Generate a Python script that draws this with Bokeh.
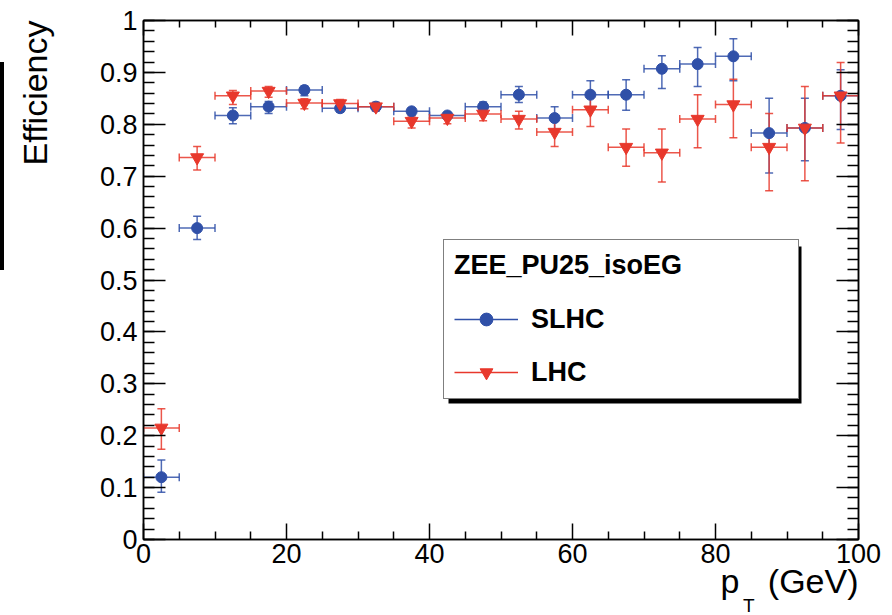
import math

from bokeh.embed import file_html
from bokeh.layouts import row
from bokeh.models import (BoxAnnotation, ColumnDataSource, FixedTicker, Legend,
                          LegendItem, LinearAxis, Range1d, Spacer, TeeHead,
                          Title, Whisker)
from bokeh.plotting import figure
from bokeh.resources import INLINE

# ---------------------------------------------------------------- data
# pT bins (GeV): centres and half widths
pt_center = [2.5, 7.5, 12.5, 17.5, 22.5, 27.5, 32.5, 37.5, 42.5, 47.5,
             52.5, 57.5, 62.5, 67.5, 72.5, 77.5, 82.5, 87.5, 92.5, 97.5]
pt_half = [2.5] * 20

# SLHC efficiency with asymmetric errors
slhc_eff = [0.120, 0.600, 0.817, 0.834, 0.866, 0.831, 0.834, 0.825, 0.817, 0.834,
            0.857, 0.812, 0.857, 0.857, 0.907, 0.916, 0.931, 0.783, 0.793, 0.855]
slhc_lo = [0.091, 0.578, 0.801, 0.821, 0.855, 0.823, 0.826, 0.818, 0.812, 0.827,
           0.842, 0.790, 0.833, 0.827, 0.869, 0.873, 0.884, 0.706, 0.730, 0.790]
slhc_hi = [0.153, 0.623, 0.832, 0.844, 0.874, 0.840, 0.842, 0.832, 0.822, 0.843,
           0.873, 0.834, 0.884, 0.886, 0.932, 0.948, 0.965, 0.850, 0.850, 0.905]

# LHC efficiency with asymmetric errors
lhc_eff = [0.215, 0.736, 0.855, 0.864, 0.841, 0.840, 0.834, 0.806, 0.812, 0.820,
           0.810, 0.785, 0.828, 0.756, 0.745, 0.810, 0.838, 0.756, 0.793, 0.855]
lhc_lo = [0.174, 0.712, 0.838, 0.852, 0.830, 0.831, 0.826, 0.793, 0.801, 0.807,
          0.791, 0.757, 0.796, 0.719, 0.689, 0.755, 0.774, 0.672, 0.691, 0.764]
lhc_hi = [0.252, 0.757, 0.865, 0.873, 0.849, 0.848, 0.842, 0.816, 0.820, 0.832,
          0.825, 0.807, 0.855, 0.791, 0.791, 0.857, 0.887, 0.821, 0.873, 0.919]

# axis ticks
x_ticks = [0, 20, 40, 60, 80, 100]
x_tick_labels = ["0", "20", "40", "60", "80", "100"]
x_minor = [5, 10, 15, 25, 30, 35, 45, 50, 55, 65, 70, 75, 85, 90, 95]
y_ticks = [0, 0.1, 0.2, 0.3, 0.4, 0.5, 0.6, 0.7, 0.8, 0.9, 1]
y_tick_labels = ["0", "0.1", "0.2", "0.3", "0.4", "0.5", "0.6", "0.7", "0.8", "0.9", "1"]
y_minor = [i / 50 for i in range(51)]

legend_title = "ZEE_PU25_isoEG"
series_names = ["SLHC", "LHC"]
y_title = "Efficiency"
x_title = "p\u00a0\u00a0\u00a0(GeV)"   # gap left for the subscript
x_title_sub = "T"

BLUE = "#3050A8"
RED = "#E8382C"
FONT = "Liberation Sans"

# ---------------------------------------------------------------- figure
p = figure(width=888, height=615, output_backend="svg", toolbar_location=None,
           x_range=Range1d(0, 100), y_range=Range1d(0, 1),
           min_border_left=139, min_border_right=34,
           min_border_top=20, min_border_bottom=76)
p.grid.visible = False
p.outline_line_color = "black"
p.outline_line_width = 1.5
p.background_fill_color = "white"
p.border_fill_color = "white"


def style_axis(ax, major, minor):
    ax.axis_line_color = "black"
    ax.axis_line_width = 1.5
    ax.major_tick_line_color = "black"
    ax.minor_tick_line_color = "black"
    ax.major_tick_line_width = 1.5
    ax.minor_tick_line_width = 1.5
    ax.major_tick_in = major
    ax.major_tick_out = 0
    ax.minor_tick_in = minor
    ax.minor_tick_out = 0
    ax.major_label_text_font = FONT
    ax.major_label_text_font_size = "27px"
    ax.major_label_text_color = "black"


xa = p.xaxis[0]
xa.ticker = FixedTicker(ticks=x_ticks, minor_ticks=x_minor)
xa.major_label_overrides = dict(zip(x_ticks, x_tick_labels))
style_axis(xa, 16, 8)
xa.major_label_standoff = 4

ya = p.yaxis[0]
ya.ticker = FixedTicker(ticks=y_ticks, minor_ticks=y_minor)
ya.major_label_overrides = dict(zip(y_ticks, y_tick_labels))
style_axis(ya, 22, 11)
ya.major_label_standoff = 6


# top and right edges: tick marks only, no labels
def tick_only_axis(ticks, length, side, with_line):
    ax = LinearAxis(ticker=FixedTicker(ticks=[], minor_ticks=ticks),
                    major_label_standoff=0, major_tick_out=0, major_tick_in=0,
                    minor_tick_in=length, minor_tick_out=0,
                    minor_tick_line_color="black", minor_tick_line_width=1.5,
                    axis_line_color="black" if with_line else None,
                    axis_line_width=1.5)
    p.add_layout(ax, side)


tick_only_axis(x_ticks, 15, "above", True)
tick_only_axis(x_minor, 7, "above", False)
tick_only_axis(y_ticks, 22, "right", True)
tick_only_axis(y_minor, 11, "right", False)

# ---------------------------------------------------------------- series
def make_source(eff, lo, hi):
    return ColumnDataSource(dict(
        x=pt_center,
        y=eff,
        xlo=[c - h for c, h in zip(pt_center, pt_half)],
        xhi=[c + h for c, h in zip(pt_center, pt_half)],
        ylo=lo,
        yhi=hi,
    ))


def draw_series(src, color, marker, size, key_size):
    for dim, base, lo, hi in (("height", "x", "ylo", "yhi"),
                              ("width", "y", "xlo", "xhi")):
        w = Whisker(source=src, base=base, lower=lo, upper=hi, dimension=dim,
                    line_color=color, line_width=1.5, line_alpha=0.85,
                    lower_head=TeeHead(size=8, line_color=color, line_width=1.5, line_alpha=0.85),
                    upper_head=TeeHead(size=8, line_color=color, line_width=1.5, line_alpha=0.85))
        p.add_layout(w)
    p.scatter("x", "y", source=src, marker=marker, size=size,
              fill_color=color, line_color=color)
    # line and small marker used only for the legend key
    key_line = p.line(x=[math.nan], y=[math.nan], line_color=color, line_width=1.5)
    key_mark = p.scatter(x=[math.nan], y=[math.nan], marker=marker, size=key_size,
                         fill_color=color, line_color=color)
    return [key_line, key_mark]


slhc_src = make_source(slhc_eff, slhc_lo, slhc_hi)
lhc_src = make_source(lhc_eff, lhc_lo, lhc_hi)
slhc_r = draw_series(slhc_src, BLUE, "circle", 11, 8)
lhc_r = draw_series(lhc_src, RED, "inverted_triangle", 13, 9)

# ---------------------------------------------------------------- legend
shadow = BoxAnnotation(left=444, right=797, top=246, bottom=403,
                       left_units="canvas", right_units="canvas",
                       top_units="canvas", bottom_units="canvas",
                       fill_color="black", fill_alpha=1, line_color=None)
p.add_layout(shadow)

legend = Legend(
    items=[LegendItem(label=series_names[0], renderers=slhc_r),
           LegendItem(label=series_names[1], renderers=lhc_r)],
    title=legend_title, location=(300, 140), margin=0,
    title_text_font=FONT, title_text_font_style="bold", title_text_font_size="27px",
    title_text_color="black", title_standoff=22,
    label_text_font=FONT, label_text_font_style="bold", label_text_font_size="27px",
    label_text_color="black", label_standoff=13, label_width=257,
    glyph_width=64, glyph_height=32, spacing=21, padding=10,
    border_line_color="black", border_line_width=1.5,
    background_fill_color="white", background_fill_alpha=1,
)
p.add_layout(legend, "center")

# ---------------------------------------------------------------- axis titles
# y title at the top end of the axis; the trailing empty line keeps it away
# from the tick labels
p.add_layout(Title(text=y_title + "\n", align="right", vertical_align="top",
                   standoff=23, text_font=FONT, text_font_size="34px",
                   text_font_style="normal", text_color="black",
                   text_line_height=0.75), "left")

# x title at the right end of the axis, with the subscript on a lower row
p.add_layout(Title(text=x_title, align="right", vertical_align="top",
                   standoff=-8, offset=0, text_font=FONT, text_font_size="34px",
                   text_font_style="normal", text_color="black"), "below")
p.add_layout(Title(text=x_title_sub, align="right", vertical_align="top",
                   standoff=-6, offset=104, text_font=FONT, text_font_size="19px",
                   text_font_style="normal", text_color="black"), "below")

# thin black bar along the page's left edge
edge_bar = Spacer(width=4, height=208, margin=(62, 0, 0, 0),
                  styles={"background-color": "black"})

layout = row(edge_bar, p)

open("out.html", "w").write(file_html(layout, INLINE))
